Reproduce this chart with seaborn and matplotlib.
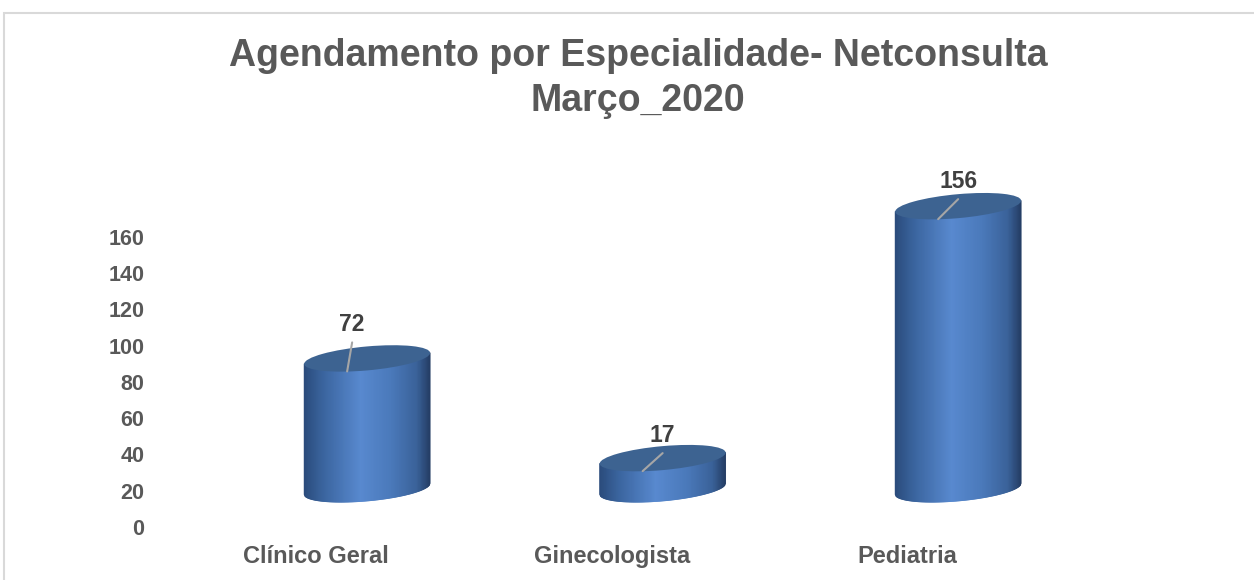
import numpy as np
import pandas as pd
import matplotlib
matplotlib.use("Agg")
import matplotlib.pyplot as plt
import seaborn as sns
from matplotlib.patches import Ellipse, Rectangle
from matplotlib.collections import PolyCollection
from matplotlib.transforms import Affine2D, ScaledTranslation, IdentityTransform
from matplotlib.colors import LinearSegmentedColormap

# ---- data ----
categories = ["Clínico Geral", "Ginecologista", "Pediatria"]
values = [72, 17, 156]
y_ticks = [0, 20, 40, 60, 80, 100, 120, 140, 160]
title_lines = ["Agendamento por Especialidade- Netconsulta", "Março_2020"]

# ---- style ----
BASE = 21            # floor offset of the 3D cylinders
BAR_W = 0.426
ELL_PX = 24          # ellipse vertical size in pixels
SKEW_DEG = 5
N_STRIPS = 140
TXT_GRAY = "#595959"
VAL_GRAY = "#404040"
TOP_COLOR = "#3d6391"
label_offsets = [(-15, 34), (0, 23), (0, 25)]  # px offsets of value labels

sns.set_theme(style="white")
plt.rcParams['font.family'] = ['Liberation Sans', 'DejaVu Sans']

DPI = 100
fig = plt.figure(figsize=(12.54, 5.8), dpi=DPI)
ax = fig.add_axes([0.1396, 0.09138, 0.813, 0.5938])

df = pd.DataFrame({"cat": categories, "val": values})
sns.barplot(data=df, x="cat", y="val", bottom=BASE, width=BAR_W,
            color="#3c6291", errorbar=None, ax=ax, linewidth=0)

ax.set_xlim(-0.65, 2.8)
ax.set_ylim(0, 190)
ax.set_autoscale_on(False)
for s in ax.spines.values():
    s.set_visible(False)
ax.set_xlabel("")
ax.set_ylabel("")
ax.set_yticks(y_ticks)
ax.set_yticklabels([str(t) for t in y_ticks], fontsize=15.5, fontweight="bold", color=TXT_GRAY)
ax.tick_params(axis="y", length=0, pad=22)
ax.tick_params(axis="x", length=0, pad=13)
ax.set_xticks(range(len(categories)))
ax.set_xticklabels(categories, fontsize=17, fontweight="bold", color=TXT_GRAY)
for lab in ax.get_xticklabels():
    lab.set_transform(lab.get_transform() + ScaledTranslation(-51 / DPI, 0, fig.dpi_scale_trans))

cmap = LinearSegmentedColormap.from_list("cyl", [
    (0.0, "#2a4b7b"), (0.15, "#3a649e"), (0.45, "#5889cf"),
    (0.7, "#4a79ba"), (0.9, "#3a6299"), (1.0, "#253e66")])

fig.canvas.draw()
px_per_unit = ax.transData.transform((0, 1))[1] - ax.transData.transform((0, 0))[1]
eh = ELL_PX / px_per_unit

bars = list(ax.patches)
for i, (p, v) in enumerate(zip(bars, values)):
    x0, w = p.get_x(), p.get_width()
    by, h = p.get_y(), p.get_height()
    cx = x0 + w / 2
    cxp, byp = ax.transData.transform((cx, by))
    skew = Affine2D().translate(-cxp, -byp).skew_deg(0, SKEW_DEG).translate(cxp, byp)
    T = ax.transData + skew
    p.set_visible(False)
    # body: vertical strips from the bottom ellipse curve up to the top
    xs = np.linspace(x0, x0 + w, N_STRIPS + 1)
    rel = np.clip((xs - cx) / (w / 2), -1, 1)
    ybot = by - (eh / 2) * np.sqrt(1 - rel ** 2)
    top = by + h
    polys = [[(xs[k], ybot[k]), (xs[k + 1], ybot[k + 1]), (xs[k + 1], top), (xs[k], top)]
             for k in range(N_STRIPS)]
    cols = cmap((np.arange(N_STRIPS) + 0.5) / N_STRIPS)
    pc = PolyCollection(polys, facecolors=cols, edgecolors=cols, linewidths=0.6,
                        transform=T, zorder=2)
    ax.add_collection(pc)
    # top ellipse
    te = Ellipse((cx, top), w, eh, transform=T, facecolor=TOP_COLOR,
                 edgecolor="none", zorder=3)
    ax.add_patch(te)
    # labels and leader lines
    P = T.transform((cx, top))
    dx, dy = label_offsets[i]
    ax.plot([P[0] - 20, P[0] + dx], [P[1] - 13, P[1] + dy - 18],
            transform=IdentityTransform(), color="#a6a6a6", lw=1.5, zorder=4)
    ax.text(P[0] + dx, P[1] + dy, str(v), transform=IdentityTransform(),
            ha="center", va="center", fontsize=16.5, fontweight="bold",
            color=VAL_GRAY, zorder=5)

ax.set_xlim(-0.65, 2.8)
ax.set_ylim(0, 190)

# title
fig.text(638 / 1254, 1 - 56 / 580, title_lines[0], ha="center", va="center",
         fontsize=27, fontweight="bold", color=TXT_GRAY)
fig.text(638 / 1254, 1 - 101 / 580, title_lines[1], ha="center", va="center",
         fontsize=27, fontweight="bold", color=TXT_GRAY)

# chart frame
fig.add_artist(Rectangle((4 / 1254, -0.1), 1.1, (580 - 13) / 580 + 0.1,
                         transform=fig.transFigure, fill=False,
                         edgecolor="#d9d9d9", lw=1.5))

fig.savefig("out.png", dpi=DPI)
